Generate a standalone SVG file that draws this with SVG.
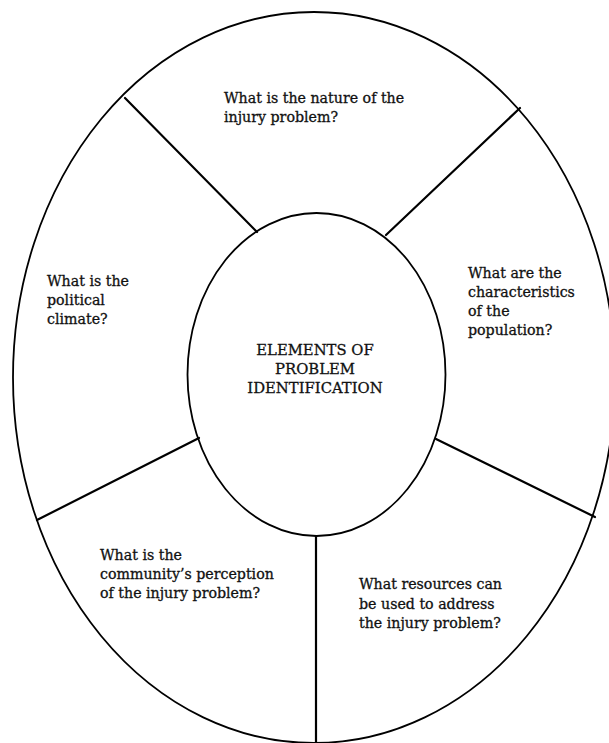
<svg xmlns="http://www.w3.org/2000/svg" width="609" height="743" viewBox="0 0 609 743">
<style>
.sh{fill:none;stroke:#000;stroke-width:1.8}
.ln{stroke:#000;stroke-width:2.2;stroke-linecap:round}
text{font-family:"DejaVu Serif","Liberation Serif",serif;font-size:14.2px;fill:#111;stroke:#111;stroke-width:0.3}
.c{text-anchor:middle;font-size:14.8px}
</style>
<rect width="609" height="743" fill="#fff"/>
<g id="outer"><ellipse class="sh" cx="314" cy="377.5" rx="301" ry="365.5"/></g>
<g id="connectors">
<line class="ln" x1="125" y1="98" x2="257" y2="232"/>
<line class="ln" x1="520" y1="108" x2="386" y2="235"/>
<line class="ln" x1="37" y1="520" x2="199" y2="438"/>
<line class="ln" x1="436" y1="439" x2="595" y2="517"/>
<line class="ln" x1="316" y1="536" x2="316" y2="743"/>
</g>
<g id="center"><ellipse class="sh" cx="316.5" cy="374.5" rx="129" ry="161.5"/>
<text class="c" x="315" y="355">ELEMENTS OF</text>
<text class="c" x="315" y="374">PROBLEM</text>
<text class="c" x="315" y="393">IDENTIFICATION</text></g>
<g id="nature"><text x="224" y="103">What is the nature of the</text><text x="224" y="122">injury problem?</text></g>
<g id="political"><text x="47" y="286">What is the</text><text x="47" y="305">political</text><text x="47" y="324">climate?</text></g>
<g id="population"><text x="468" y="278">What are the</text><text x="468" y="297">characteristics</text><text x="468" y="316">of the</text><text x="468" y="335">population?</text></g>
<g id="perception"><text x="100" y="560">What is the</text><text x="100" y="579">community’s perception</text><text x="100" y="598">of the injury problem?</text></g>
<g id="resources"><text x="359" y="589">What resources can</text><text x="359" y="609">be used to address</text><text x="359" y="628">the injury problem?</text></g>
</svg>
